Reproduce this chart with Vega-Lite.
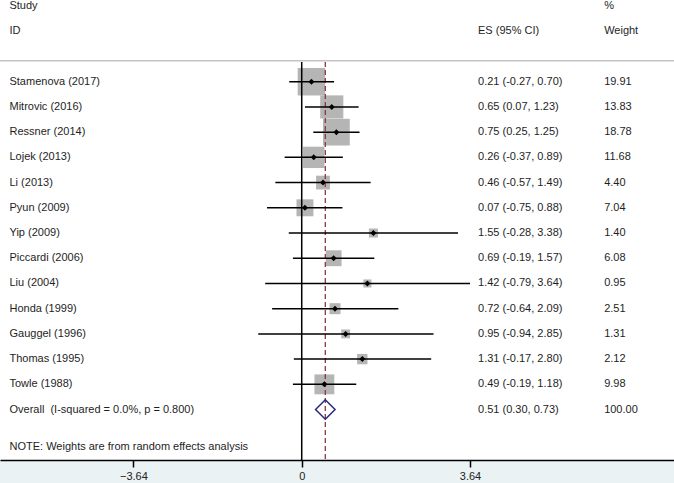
{
  "$schema": "https://vega.github.io/schema/vega-lite/v6.json",
  "width": 674,
  "height": 460,
  "autosize": {"type": "none"},
  "padding": {"left": 0, "right": 0, "top": 0, "bottom": 23},
  "background": "#eaf2f3",
  "config": {
    "view": {"fill": "white", "stroke": null},
    "text": {"font": "Liberation Sans", "fontSize": 11, "color": "#1e1e1e", "align": "left", "baseline": "middle"}
  },
  "datasets": {
    "rows": [
      {"study": "Stamenova (2017)", "type": "study", "es": 0.21, "lo": -0.27, "hi": 0.70, "weight": 19.91, "ci": "0.21 (-0.27, 0.70)", "wt": "19.91"},
      {"study": "Mitrovic (2016)", "type": "study", "es": 0.65, "lo": 0.07, "hi": 1.23, "weight": 13.83, "ci": "0.65 (0.07, 1.23)", "wt": "13.83"},
      {"study": "Ressner (2014)", "type": "study", "es": 0.75, "lo": 0.25, "hi": 1.25, "weight": 18.78, "ci": "0.75 (0.25, 1.25)", "wt": "18.78"},
      {"study": "Lojek (2013)", "type": "study", "es": 0.26, "lo": -0.37, "hi": 0.89, "weight": 11.68, "ci": "0.26 (-0.37, 0.89)", "wt": "11.68"},
      {"study": "Li (2013)", "type": "study", "es": 0.46, "lo": -0.57, "hi": 1.49, "weight": 4.40, "ci": "0.46 (-0.57, 1.49)", "wt": "4.40"},
      {"study": "Pyun (2009)", "type": "study", "es": 0.07, "lo": -0.75, "hi": 0.88, "weight": 7.04, "ci": "0.07 (-0.75, 0.88)", "wt": "7.04"},
      {"study": "Yip (2009)", "type": "study", "es": 1.55, "lo": -0.28, "hi": 3.38, "weight": 1.40, "ci": "1.55 (-0.28, 3.38)", "wt": "1.40"},
      {"study": "Piccardi (2006)", "type": "study", "es": 0.69, "lo": -0.19, "hi": 1.57, "weight": 6.08, "ci": "0.69 (-0.19, 1.57)", "wt": "6.08"},
      {"study": "Liu (2004)", "type": "study", "es": 1.42, "lo": -0.79, "hi": 3.64, "weight": 0.95, "ci": "1.42 (-0.79, 3.64)", "wt": "0.95"},
      {"study": "Honda (1999)", "type": "study", "es": 0.72, "lo": -0.64, "hi": 2.09, "weight": 2.51, "ci": "0.72 (-0.64, 2.09)", "wt": "2.51"},
      {"study": "Gauggel (1996)", "type": "study", "es": 0.95, "lo": -0.94, "hi": 2.85, "weight": 1.31, "ci": "0.95 (-0.94, 2.85)", "wt": "1.31"},
      {"study": "Thomas (1995)", "type": "study", "es": 1.31, "lo": -0.17, "hi": 2.80, "weight": 2.12, "ci": "1.31 (-0.17, 2.80)", "wt": "2.12"},
      {"study": "Towle (1988)", "type": "study", "es": 0.49, "lo": -0.19, "hi": 1.18, "weight": 9.98, "ci": "0.49 (-0.19, 1.18)", "wt": "9.98"},
      {"study": "Overall\u00a0 (I-squared = 0.0%, p = 0.800)", "type": "overall", "es": 0.51, "lo": 0.30, "hi": 0.73, "weight": 100.00, "ci": "0.51 (0.30, 0.73)", "wt": "100.00"}
    ],
    "headers": [
      {"row": "hdr1", "col": "label", "text": "Study"},
      {"row": "hdr2", "col": "label", "text": "ID"},
      {"row": "hdr2", "col": "es", "text": "ES (95% CI)"},
      {"row": "hdr1", "col": "weight", "text": "%"},
      {"row": "hdr2", "col": "weight", "text": "Weight"},
      {"row": "note", "col": "note", "text": "NOTE: Weights are from random effects analysis"}
    ],
    "one": [{}]
  },
  "layer": [
    {
      "data": {"name": "one"},
      "mark": {"type": "rule", "color": "#c4c4c4", "strokeWidth": 1.5},
      "encoding": {
        "y": {
          "datum": "blank", "type": "nominal", "bandPosition": 0.17, "axis": null,
          "scale": {
            "type": "band",
            "domain": ["hdr1", "hdr2", "blank", "Stamenova (2017)", "Mitrovic (2016)", "Ressner (2014)", "Lojek (2013)", "Li (2013)", "Pyun (2009)", "Yip (2009)", "Piccardi (2006)", "Liu (2004)", "Honda (1999)", "Gauggel (1996)", "Thomas (1995)", "Towle (1988)", "Overall\u00a0 (I-squared = 0.0%, p = 0.800)", "note"],
            "paddingInner": 0, "paddingOuter": 0.12, "align": 1
          }
        }
      }
    },
    {
      "data": {"name": "rows"},
      "transform": [{"filter": "datum.type == 'study'"}],
      "mark": {"type": "square", "color": "#b5b5b5", "opacity": 1, "filled": true},
      "encoding": {
        "x": {
          "field": "es", "type": "quantitative",
          "scale": {"domain": [-6.525, 8.051], "nice": false, "zero": false},
          "axis": {
            "values": [-3.64, 0, 3.64], "title": null, "grid": false,
            "domainColor": "#000", "domainWidth": 1.5, "tickColor": "#000", "tickWidth": 1.5, "tickSize": 7,
            "labelPadding": 3, "labelFontSize": 11, "labelFont": "Liberation Sans", "labelColor": "#222",
            "labelFlush": false, "labelOverlap": false,
            "labelExpr": "datum.value == 0 ? '0' : format(datum.value, '.2f')"
          }
        },
        "y": {"field": "study", "type": "nominal", "bandPosition": 0},
        "size": {"field": "weight", "type": "quantitative", "scale": {"domain": [0, 20], "range": [30, 760], "zero": false}, "legend": null}
      }
    },
    {
      "data": {"name": "one"},
      "mark": {"type": "rule", "color": "#000", "strokeWidth": 1.5},
      "encoding": {
        "x": {"datum": 0, "type": "quantitative"},
        "y": {"datum": "blank", "type": "nominal", "bandPosition": 0.22},
        "y2": {"datum": "note", "bandPosition": 1}
      }
    },
    {
      "data": {"name": "rows"},
      "transform": [{"filter": "datum.type == 'overall'"}],
      "mark": {"type": "rule", "color": "#8e3540", "strokeWidth": 1.3, "strokeDash": [5, 3]},
      "encoding": {
        "x": {"field": "es", "type": "quantitative"},
        "y": {"datum": "blank", "type": "nominal", "bandPosition": 0.22},
        "y2": {"datum": "note", "bandPosition": 1}
      }
    },
    {
      "data": {"name": "rows"},
      "transform": [{"filter": "datum.type == 'study'"}],
      "mark": {"type": "rule", "color": "#000", "strokeWidth": 1.5},
      "encoding": {
        "x": {"field": "lo", "type": "quantitative"},
        "x2": {"field": "hi"},
        "y": {"field": "study", "type": "nominal", "bandPosition": 0}
      }
    },
    {
      "data": {"name": "rows"},
      "transform": [{"filter": "datum.type == 'study'"}],
      "mark": {"type": "point", "shape": "diamond", "size": 36, "filled": true, "color": "#000", "opacity": 1},
      "encoding": {
        "x": {"field": "es", "type": "quantitative"},
        "y": {"field": "study", "type": "nominal", "bandPosition": 0}
      }
    },
    {
      "data": {"name": "rows"},
      "transform": [{"filter": "datum.type == 'overall'"}],
      "mark": {"type": "point", "shape": "diamond", "size": 380, "filled": false, "stroke": "#28287c", "strokeWidth": 1.5, "opacity": 1},
      "encoding": {
        "x": {"field": "es", "type": "quantitative"},
        "y": {"field": "study", "type": "nominal", "bandPosition": 0}
      }
    },
    {
      "data": {"name": "rows"},
      "mark": {"type": "text"},
      "encoding": {
        "x": {"datum": -6.32, "type": "quantitative"},
        "y": {"field": "study", "type": "nominal", "bandPosition": 0},
        "text": {"field": "study"}
      }
    },
    {
      "data": {"name": "rows"},
      "mark": {"type": "text"},
      "encoding": {
        "x": {"datum": 3.813, "type": "quantitative"},
        "y": {"field": "study", "type": "nominal", "bandPosition": 0},
        "text": {"field": "ci"}
      }
    },
    {
      "data": {"name": "rows"},
      "mark": {"type": "text"},
      "encoding": {
        "x": {"datum": 6.54, "type": "quantitative"},
        "y": {"field": "study", "type": "nominal", "bandPosition": 0},
        "text": {"field": "wt"}
      }
    },
    {
      "data": {"name": "headers"},
      "transform": [{"filter": "datum.col == 'label'"}],
      "mark": {"type": "text"},
      "encoding": {
        "x": {"datum": -6.32, "type": "quantitative"},
        "y": {"field": "row", "type": "nominal", "bandPosition": 0},
        "text": {"field": "text"}
      }
    },
    {
      "data": {"name": "headers"},
      "transform": [{"filter": "datum.col == 'es'"}],
      "mark": {"type": "text"},
      "encoding": {
        "x": {"datum": 3.813, "type": "quantitative"},
        "y": {"field": "row", "type": "nominal", "bandPosition": 0},
        "text": {"field": "text"}
      }
    },
    {
      "data": {"name": "headers"},
      "transform": [{"filter": "datum.col == 'weight'"}],
      "mark": {"type": "text"},
      "encoding": {
        "x": {"datum": 6.54, "type": "quantitative"},
        "y": {"field": "row", "type": "nominal", "bandPosition": 0},
        "text": {"field": "text"}
      }
    },
    {
      "data": {"name": "headers"},
      "transform": [{"filter": "datum.col == 'note'"}],
      "mark": {"type": "text"},
      "encoding": {
        "x": {"datum": -6.32, "type": "quantitative"},
        "y": {"field": "row", "type": "nominal", "bandPosition": 0.5},
        "text": {"field": "text"}
      }
    }
  ]
}
